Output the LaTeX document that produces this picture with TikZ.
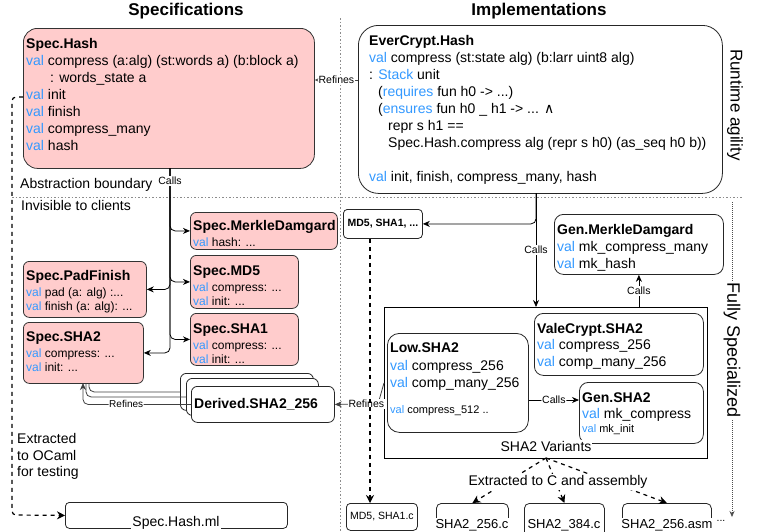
\documentclass[tikz,border=0pt]{standalone}
\usepackage{fontspec}
\setmainfont{Liberation Sans}
\newfontfamily\symfont{DejaVu Sans}
\usetikzlibrary{arrows.meta}

\definecolor{specpink}{RGB}{255,204,204}
\definecolor{kwblue}{RGB}{51,153,255}
\newcommand{\kw}[1]{\textcolor{kwblue}{#1}}
\newcommand{\bodyfont}{\fontsize{14}{17}\selectfont}
\newcommand{\smallbody}{\fontsize{12}{14}\selectfont}
\newcommand{\tinybody}{\fontsize{11}{13}\selectfont}
\newcommand{\lblfont}{\fontsize{10.5}{12}\selectfont}

\begin{document}
\begin{tikzpicture}[x=1pt, y=-1pt,
    specbox/.style={draw=black!80, fill=specpink, line width=0.8pt, anchor=north west, inner sep=0pt, rounded corners=6pt},
    implbox/.style={draw=black!85, fill=white, line width=0.8pt, anchor=north west, inner sep=0pt, rounded corners=6pt},
    txt/.style={anchor=north west, align=left, inner sep=0pt, font=\bodyfont},
    smalltxt/.style={txt, font=\smallbody},
    lbl/.style={fill=white, inner sep=1pt, font=\lblfont},
    sep/.style={draw=black!45, line width=0.8pt, dash pattern=on 1.5pt off 2pt},
    calls/.style={-{Stealth[length=7pt,width=6pt]}, line width=0.8pt, rounded corners=5pt},
    refines/.style={calls, draw=black!75},
    extract/.style={-{Stealth[length=8pt,width=8pt]}, line width=1.2pt, dash pattern=on 4pt off 4pt}]
    \useasboundingbox (0,0) rectangle (760,531);

    % headings and separators
    \node[font=\fontsize{17}{20}\selectfont\bfseries] (spectitle) at (186,11) {Specifications};
    \node[font=\fontsize{17}{20}\selectfont\bfseries] (impltitle) at (539,11) {Implementations};
    \draw[sep] (340,18) -- (340,531);
    \draw[sep] (12,197) -- (742,197);
    \node[anchor=west, font=\bodyfont, inner sep=0pt] (absb) at (20,185) {Abstraction boundary};
    \node[anchor=west, font=\bodyfont, inner sep=0pt] (invis) at (21,205) {Invisible to clients};

    % specifications
    \node[specbox, rounded corners=14pt, minimum width=291pt, minimum height=140pt] (hash) at (23,28) {};
    \node[txt] (hashtxt) at ([shift={(3,8)}]hash.north west) {\strut\textbf{Spec.Hash}\\
        \kw{val} compress (a:alg) (st:words a) (b:block a)\\
        \hspace*{24pt}: words\_state a\\
        \kw{val} init\\
        \kw{val} finish\\
        \kw{val} compress\_many\\
        \kw{val} hash};

    \node[specbox, minimum width=147pt, minimum height=37pt] (smd) at (190,212) {};
    \node[smalltxt] (smdtxt) at ([shift={(3,8)}]smd.north west) {\rule{0pt}{10.3pt}{\bodyfont\bfseries Spec.MerkleDamgard}\\[2pt]
        \kw{val} hash: ...};
    \node[specbox, minimum width=108pt, minimum height=53pt] (smdfive) at (190,255) {};
    \node[smalltxt] (smdfivetxt) at ([shift={(3,10)}]smdfive.north west) {\rule{0pt}{10.3pt}{\bodyfont\bfseries Spec.MD5}\\[2pt]
        \kw{val} compress: ...\\
        \kw{val} init: ...};
    \node[specbox, minimum width=108pt, minimum height=52pt] (sshaone) at (190,313) {};
    \node[smalltxt] (sshaonetxt) at ([shift={(3,10)}]sshaone.north west) {\rule{0pt}{10.3pt}{\bodyfont\bfseries Spec.SHA1}\\[2pt]
        \kw{val} compress: ...\\
        \kw{val} init: ...};
    \node[specbox, minimum width=123pt, minimum height=56pt] (spad) at (23,261) {};
    \node[smalltxt] (spadtxt) at ([shift={(3,9)}]spad.north west) {\rule{0pt}{10.3pt}{\bodyfont\bfseries Spec.PadFinish}\\[2pt]
        \kw{val} pad (a: alg) :...\\
        \kw{val} finish (a: alg): ...};
    \node[specbox, minimum width=120pt, minimum height=61pt] (sshatwo) at (23,322) {};
    \node[smalltxt] (sshatwotxt) at ([shift={(3,9)}]sshatwo.north west) {\rule{0pt}{10.3pt}{\bodyfont\bfseries Spec.SHA2}\\[2pt]
        \kw{val} compress: ...\\
        \kw{val} init: ...};

    % derived, stacked
    \node[implbox, minimum width=133pt, minimum height=37pt] (derivedc) at (180,373) {};
    \node[implbox, minimum width=132pt, minimum height=37pt] (derivedb) at (186,378) {};
    \node[implbox, minimum width=143pt, minimum height=36pt] (derived) at (191,386) {};
    \node[anchor=west, inner sep=0pt, font=\bodyfont\bfseries] (derivedtxt) at (194,404) {Derived.SHA2\_256};

    % implementations
    \node[implbox, rounded corners=20pt, minimum width=364pt, minimum height=168pt] (ever) at (358,25) {};
    \node[txt] (evertxt) at ([shift={(11,8)}]ever.north west) {\strut\textbf{EverCrypt.Hash}\\
        \kw{val} compress (st:state alg) (b:larr uint8 alg)\\
        : \kw{Stack} unit\\
        \hspace*{9pt}(\kw{requires} fun h0 -> ...)\\
        \hspace*{9pt}(\kw{ensures} fun h0 \_ h1 -> ... {\symfont ∧}\\
        \hspace*{19pt}repr s h1 ==\\
        \hspace*{19pt}Spec.Hash.compress alg (repr s h0) (as\_seq h0 b))\\[17pt]
        \kw{val} init, finish, compress\_many, hash};
    \node[rotate=-90, font=\fontsize{17}{20}\selectfont] (runtime) at (735,105) {Runtime agility};

    \node[implbox, rounded corners=4pt, minimum width=79pt, minimum height=29pt, font=\fontsize{10.5}{12}\selectfont\bfseries] (mdbox) at (343,209) {MD5, SHA1, ...};

    \node[implbox, rounded corners=9pt, minimum width=169pt, minimum height=60pt] (genmd) at (554,214) {};
    \node[txt] (genmdtxt) at ([shift={(3,8)}]genmd.north west) {\strut\textbf{Gen.MerkleDamgard}\\
        \kw{val} mk\_compress\_many\\
        \kw{val} mk\_hash};

    \node[draw, line width=0.8pt, anchor=north west, inner sep=0pt, minimum width=323pt, minimum height=151pt] (variants) at (384,307) {};
    \node[implbox, rounded corners=9pt, minimum width=169pt, minimum height=62pt] (vale) at (534,313) {};
    \node[txt] (valetxt) at ([shift={(3,8)}]vale.north west) {\strut\textbf{ValeCrypt.SHA2}\\[-1pt]
        \kw{val} compress\_256\\
        \kw{val} comp\_many\_256};
    \node[implbox, rounded corners=12pt, minimum width=141pt, minimum height=99pt] (low) at (387,333) {};
    \node[txt] (lowtxt) at ([shift={(3,7)}]low.north west) {\strut\textbf{Low.SHA2}\\[1pt]
        \kw{val} compress\_256\\
        \kw{val} comp\_many\_256\\[9pt]
        {\tinybody\kw{val} compress\_512 ..}};
    \node[implbox, rounded corners=9pt, minimum width=124pt, minimum height=61pt] (gensha) at (579,382) {};
    \node[txt] (genshatxt) at ([shift={(3,8)}]gensha.north west) {\strut\textbf{Gen.SHA2}\\[-1pt]
        \kw{val} mk\_compress\\[-3pt]
        {\tinybody\kw{val} mk\_init}};
    \node[fill=white, inner sep=1pt, font=\bodyfont] (variantslbl) at (546,446) {SHA2 Variants};

    % extracted files
    \node[implbox, rounded corners=4pt, minimum width=222pt, minimum height=26pt] (ml) at (65,502) {};
    \node[fill=white, inner sep=1pt, font=\bodyfont] (mllbl) at (176,523) {Spec.Hash.ml};
    \node[implbox, rounded corners=4pt, minimum width=71pt, minimum height=27pt, font=\lblfont] (mdc) at (346,503) {MD5, SHA1.c};
    \node[implbox, rounded corners=5pt, minimum width=72pt, minimum height=42pt] (c256) at (436,503) {};
    \node[implbox, rounded corners=5pt, minimum width=80pt, minimum height=42pt] (c384) at (524,503) {};
    \node[implbox, rounded corners=5pt, minimum width=89pt, minimum height=42pt] (casm) at (622,503) {};
    \node[fill=white, inner sep=1pt, font=\fontsize{13}{15}\selectfont] (c256lbl) at (472,525) {SHA2\_256.c};
    \node[fill=white, inner sep=1pt, font=\fontsize{13}{15}\selectfont] (c384lbl) at (564,525) {SHA2\_384.c};
    \node[fill=white, inner sep=1pt, font=\fontsize{13}{15}\selectfont] (casmlbl) at (667,525) {SHA2\_256.asm};
    \node[inner sep=0pt, font=\lblfont] (moredots) at (721,521) {...};

    % connectors
    \draw[refines] (ever.west |- 0,80) -- node[lbl]{Refines} (hash.east |- 0,80);

    \coordinate (hashcall) at (170,168);
    \draw[calls] (hashcall) |- (smdfive.west);
    \draw[calls] (hashcall) |- (sshaone.west);
    \draw[calls] (hashcall) |- (spad.east);
    \draw[calls] (hashcall) |- (sshatwo.east);
    \draw[calls] (hashcall) |- node[lbl, pos=0.104]{Calls} (smd.west);

    \coordinate (evercall) at (536,193);
    \draw[calls] (evercall) |- (mdbox.east);
    \draw[calls] (evercall) -- node[lbl]{Calls} (evercall |- variants.north);
    \draw[calls] (variants.north -| genmd.south) -- node[lbl]{Calls} (genmd.south);
    \draw[calls] (low.east |- 0,400) -- node[lbl]{Calls} (gensha.west |- 0,400);

    \draw[refines, sharp corners] (variants.west) -- (378,404) -- node[lbl, pos=0.27]{Refines} (derived.east);
    \coordinate (reftip) at (83,383);
    \draw[refines, -] (derivedc.west) -| ([xshift=6pt]reftip);
    \draw[refines, -] (derivedb.west) -| ([xshift=3pt]reftip);
    \draw[refines] (derived.west) -| node[lbl, inner sep=0.5pt, font=\fontsize{10}{11}\selectfont, pos=0.3]{Refines} (reftip);

    \draw[extract, rounded corners=4pt] (hash.west |- 0,97) -- (12,97) -- (12,515) -- (ml.west);
    \node[anchor=north west, align=left, inner sep=0pt, font=\fontsize{14}{16.5}\selectfont] (octxt) at (17,432) {\strut Extracted\\to OCaml\\for testing};
    \draw[extract] (mdbox.south -| 370,0) -- (mdc.north -| 370,0);

    \coordinate (varsrc) at (546,458);
    \draw[extract] (varsrc) -- (c256.north);
    \draw[extract] (varsrc) -- (c384.north);
    \draw[extract] (varsrc) -- (casm.north);
    \node[fill=white, inner sep=1pt, font=\bodyfont] (extlbl) at (558,482) {Extracted to C and assembly};

    \coordinate (fstop) at (732,202);
    \coordinate (fsbot) at (732,517);
    \draw[draw=black!70, line width=0.7pt, dash pattern=on 1pt off 1pt, -{Stealth[length=6pt,width=5pt]}] (fstop) -- node[fill=white, rotate=-90, inner sep=1pt, font=\fontsize{18}{20}\selectfont, pos=0.47]{Fully Specialized} (fsbot);
\end{tikzpicture}
\end{document}
